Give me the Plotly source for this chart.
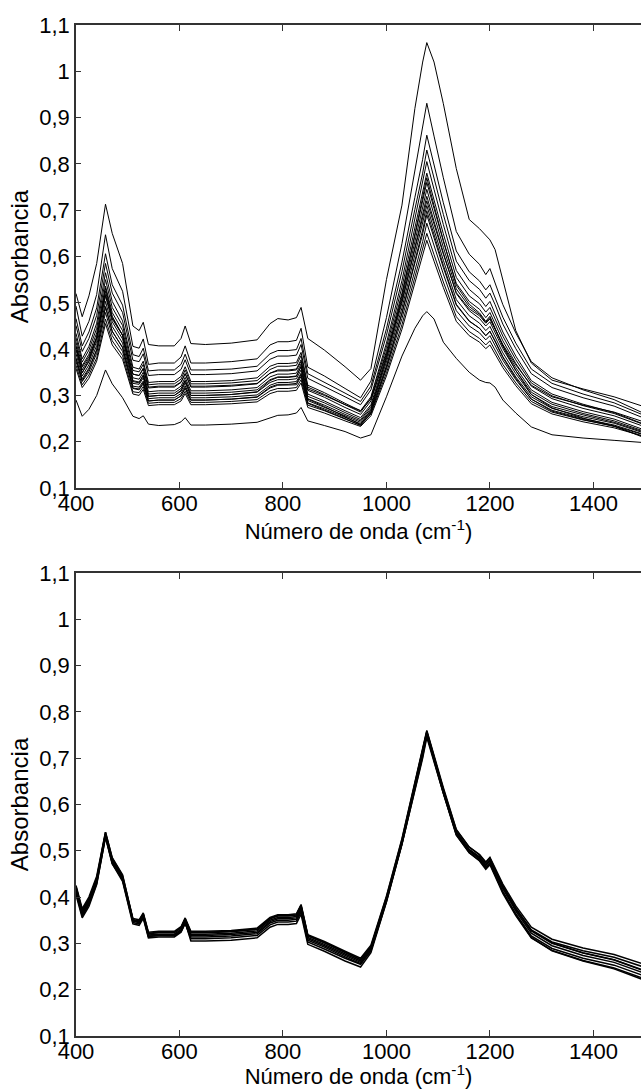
import plotly.graph_objects as go

# Wavenumber knots (cm-1)
wavenumber = [400, 412, 425, 440, 457, 470, 490, 510, 522, 530, 540, 560, 590, 603, 611, 622,
              650, 700, 750, 775, 790, 810, 826, 835, 848, 880, 920, 950, 970, 1000, 1030,
              1055, 1070, 1078, 1092, 1110, 1135, 1160, 1180, 1192, 1200, 1210, 1225, 1250,
              1280, 1320, 1380, 1440, 1500]

# ---- Top panel: raw spectra ----
raw_A = [0.52, 0.47, 0.515, 0.585, 0.713, 0.65, 0.585, 0.45, 0.44, 0.458, 0.41, 0.407, 0.407, 0.423, 0.45, 0.412,
         0.41, 0.413, 0.42, 0.455, 0.466, 0.463, 0.468, 0.49, 0.423, 0.398, 0.362, 0.333, 0.358, 0.55, 0.711,
         0.92, 1.02, 1.062, 1.02, 0.93, 0.79, 0.68, 0.66, 0.645, 0.636, 0.615, 0.55, 0.44,
         0.37, 0.333, 0.314, 0.297, 0.275]
raw_B = [0.493, 0.428, 0.46, 0.518, 0.647, 0.574, 0.525, 0.406, 0.402, 0.422, 0.367, 0.37, 0.37, 0.383, 0.407, 0.37,
         0.37, 0.373, 0.379, 0.409, 0.416, 0.416, 0.419, 0.445, 0.361, 0.342, 0.315, 0.295, 0.331, 0.468, 0.628,
         0.783, 0.873, 0.931, 0.86, 0.77, 0.654, 0.605, 0.583, 0.561, 0.574, 0.544, 0.496, 0.435,
         0.373, 0.338, 0.312, 0.291, 0.26]
raw_C = [0.466, 0.407, 0.437, 0.489, 0.606, 0.539, 0.495, 0.388, 0.384, 0.402, 0.353, 0.355, 0.355, 0.367, 0.389, 0.355,
         0.355, 0.357, 0.363, 0.39, 0.397, 0.397, 0.399, 0.423, 0.347, 0.329, 0.305, 0.287, 0.32, 0.444, 0.588,
         0.728, 0.81, 0.862, 0.798, 0.716, 0.612, 0.567, 0.547, 0.528, 0.539, 0.512, 0.469, 0.413,
         0.357, 0.326, 0.303, 0.284, 0.256]
raw_D = [0.451, 0.395, 0.423, 0.473, 0.585, 0.521, 0.479, 0.376, 0.373, 0.39, 0.343, 0.345, 0.345, 0.356, 0.377, 0.345,
         0.345, 0.347, 0.353, 0.378, 0.385, 0.385, 0.387, 0.41, 0.337, 0.32, 0.297, 0.28, 0.312, 0.43, 0.568,
         0.702, 0.78, 0.83, 0.769, 0.691, 0.59, 0.548, 0.529, 0.51, 0.521, 0.496, 0.454, 0.401,
         0.347, 0.317, 0.295, 0.277, 0.25]
raw_E = [0.434, 0.379, 0.406, 0.456, 0.565, 0.503, 0.461, 0.361, 0.357, 0.374, 0.328, 0.33, 0.33, 0.341, 0.362, 0.33,
         0.33, 0.332, 0.338, 0.363, 0.369, 0.369, 0.371, 0.393, 0.322, 0.306, 0.283, 0.267, 0.297, 0.413, 0.548,
         0.679, 0.756, 0.805, 0.745, 0.669, 0.57, 0.529, 0.51, 0.492, 0.503, 0.477, 0.437, 0.385,
         0.332, 0.303, 0.281, 0.263, 0.237]
raw_F = [0.424, 0.372, 0.398, 0.445, 0.55, 0.49, 0.451, 0.354, 0.351, 0.367, 0.323, 0.325, 0.325, 0.335, 0.355, 0.325,
         0.325, 0.327, 0.332, 0.356, 0.363, 0.363, 0.365, 0.386, 0.318, 0.302, 0.28, 0.264, 0.294, 0.404, 0.534,
         0.66, 0.733, 0.78, 0.722, 0.649, 0.555, 0.515, 0.498, 0.48, 0.49, 0.466, 0.428, 0.377,
         0.327, 0.299, 0.278, 0.261, 0.236]
raw_G = [0.415, 0.364, 0.389, 0.435, 0.536, 0.479, 0.44, 0.346, 0.343, 0.359, 0.316, 0.318, 0.318, 0.328, 0.347, 0.318,
         0.318, 0.32, 0.325, 0.348, 0.355, 0.355, 0.357, 0.377, 0.311, 0.296, 0.274, 0.259, 0.288, 0.395, 0.521,
         0.643, 0.714, 0.76, 0.704, 0.633, 0.542, 0.503, 0.486, 0.468, 0.479, 0.455, 0.418, 0.369,
         0.32, 0.293, 0.272, 0.256, 0.232]
raw_H = [0.405, 0.355, 0.38, 0.425, 0.525, 0.468, 0.43, 0.338, 0.335, 0.35, 0.308, 0.31, 0.31, 0.32, 0.339, 0.31,
         0.31, 0.312, 0.317, 0.34, 0.346, 0.346, 0.348, 0.368, 0.303, 0.288, 0.267, 0.252, 0.28, 0.386, 0.51,
         0.63, 0.7, 0.745, 0.69, 0.62, 0.53, 0.492, 0.475, 0.458, 0.468, 0.445, 0.408, 0.36,
         0.312, 0.285, 0.265, 0.249, 0.225]
raw_I = [0.398, 0.349, 0.373, 0.417, 0.515, 0.459, 0.422, 0.332, 0.329, 0.344, 0.303, 0.305, 0.305, 0.315, 0.333, 0.305,
         0.305, 0.307, 0.312, 0.334, 0.34, 0.34, 0.342, 0.362, 0.298, 0.284, 0.263, 0.248, 0.276, 0.379, 0.5,
         0.618, 0.686, 0.73, 0.676, 0.608, 0.52, 0.483, 0.466, 0.45, 0.459, 0.437, 0.401, 0.354,
         0.307, 0.281, 0.261, 0.245, 0.222]
raw_J = [0.39, 0.342, 0.366, 0.408, 0.503, 0.449, 0.413, 0.326, 0.324, 0.338, 0.298, 0.3, 0.3, 0.309, 0.327, 0.3,
         0.3, 0.302, 0.307, 0.328, 0.334, 0.334, 0.336, 0.355, 0.293, 0.279, 0.259, 0.245, 0.272, 0.372, 0.489,
         0.602, 0.668, 0.71, 0.658, 0.592, 0.507, 0.472, 0.456, 0.44, 0.449, 0.427, 0.392, 0.347,
         0.302, 0.276, 0.258, 0.242, 0.22]
raw_K = [0.381, 0.336, 0.359, 0.399, 0.49, 0.438, 0.404, 0.32, 0.318, 0.331, 0.293, 0.295, 0.295, 0.304, 0.321, 0.295,
         0.295, 0.297, 0.301, 0.322, 0.328, 0.328, 0.33, 0.348, 0.289, 0.275, 0.256, 0.242, 0.268, 0.364, 0.477,
         0.586, 0.649, 0.69, 0.64, 0.576, 0.495, 0.46, 0.445, 0.429, 0.438, 0.418, 0.384, 0.34,
         0.297, 0.272, 0.254, 0.24, 0.218]
raw_L = [0.373, 0.33, 0.351, 0.391, 0.479, 0.429, 0.395, 0.315, 0.312, 0.325, 0.288, 0.29, 0.29, 0.299, 0.315, 0.29,
         0.29, 0.292, 0.296, 0.316, 0.322, 0.322, 0.323, 0.341, 0.284, 0.271, 0.252, 0.239, 0.264, 0.357, 0.466,
         0.571, 0.632, 0.672, 0.624, 0.562, 0.483, 0.45, 0.435, 0.42, 0.429, 0.409, 0.376, 0.334,
         0.292, 0.268, 0.25, 0.236, 0.215]
raw_M = [0.365, 0.323, 0.344, 0.381, 0.465, 0.418, 0.386, 0.308, 0.306, 0.319, 0.283, 0.285, 0.285, 0.293, 0.309, 0.285,
         0.285, 0.287, 0.291, 0.31, 0.315, 0.315, 0.317, 0.334, 0.279, 0.267, 0.249, 0.236, 0.26, 0.349, 0.453,
         0.553, 0.612, 0.65, 0.604, 0.545, 0.47, 0.438, 0.423, 0.409, 0.418, 0.398, 0.367, 0.327,
         0.287, 0.264, 0.247, 0.234, 0.214]
raw_N = [0.358, 0.317, 0.337, 0.374, 0.455, 0.409, 0.378, 0.303, 0.3, 0.313, 0.278, 0.28, 0.28, 0.288, 0.304, 0.28,
         0.28, 0.282, 0.286, 0.304, 0.309, 0.309, 0.311, 0.327, 0.274, 0.262, 0.245, 0.233, 0.256, 0.342, 0.443,
         0.541, 0.598, 0.635, 0.59, 0.533, 0.46, 0.429, 0.415, 0.401, 0.409, 0.39, 0.36, 0.321,
         0.282, 0.26, 0.243, 0.23, 0.211]
raw_P = [0.407, 0.361, 0.384, 0.426, 0.518, 0.465, 0.43, 0.346, 0.343, 0.357, 0.318, 0.32, 0.32, 0.329, 0.347, 0.32,
         0.32, 0.322, 0.326, 0.348, 0.353, 0.353, 0.355, 0.373, 0.314, 0.3, 0.28, 0.267, 0.292, 0.39, 0.504,
         0.614, 0.679, 0.72, 0.67, 0.605, 0.522, 0.487, 0.472, 0.456, 0.465, 0.444, 0.41, 0.366,
         0.322, 0.297, 0.279, 0.264, 0.242]
raw_Q = [0.403, 0.349, 0.376, 0.424, 0.532, 0.471, 0.43, 0.33, 0.327, 0.343, 0.298, 0.3, 0.3, 0.311, 0.331, 0.3,
         0.3, 0.302, 0.308, 0.332, 0.339, 0.339, 0.341, 0.363, 0.292, 0.276, 0.254, 0.237, 0.268, 0.382, 0.516,
         0.646, 0.721, 0.77, 0.71, 0.635, 0.538, 0.497, 0.478, 0.46, 0.471, 0.446, 0.406, 0.354,
         0.302, 0.273, 0.251, 0.234, 0.208]
raw_R = [0.379, 0.332, 0.356, 0.398, 0.492, 0.439, 0.403, 0.316, 0.314, 0.328, 0.288, 0.29, 0.29, 0.299, 0.317, 0.29,
         0.29, 0.292, 0.297, 0.318, 0.324, 0.324, 0.326, 0.345, 0.283, 0.269, 0.25, 0.235, 0.262, 0.361, 0.478,
         0.591, 0.657, 0.699, 0.647, 0.581, 0.497, 0.461, 0.445, 0.429, 0.439, 0.417, 0.382, 0.337,
         0.292, 0.266, 0.248, 0.233, 0.21]
raw_Z = [0.29, 0.255, 0.27, 0.3, 0.355, 0.325, 0.295, 0.255, 0.25, 0.256, 0.238, 0.235, 0.237, 0.243, 0.252, 0.236,
         0.236, 0.238, 0.242, 0.252, 0.257, 0.258, 0.262, 0.274, 0.245, 0.235, 0.222, 0.208, 0.215, 0.297, 0.385,
         0.445, 0.472, 0.481, 0.465, 0.415, 0.38, 0.35, 0.333, 0.328, 0.327, 0.318, 0.29, 0.262,
         0.232, 0.215, 0.208, 0.203, 0.198]

raw_spectra = [raw_A, raw_B, raw_C, raw_D, raw_E, raw_F, raw_G, raw_H, raw_I, raw_J,
               raw_K, raw_L, raw_M, raw_N, raw_P, raw_Q, raw_R, raw_Z]

# ---- Bottom panel: corrected spectra ----
cor_1 = [0.415, 0.365, 0.39, 0.435, 0.535, 0.478, 0.44, 0.348, 0.345, 0.36, 0.318, 0.32, 0.32, 0.33, 0.349, 0.32,
         0.32, 0.322, 0.327, 0.35, 0.356, 0.356, 0.358, 0.378, 0.313, 0.298, 0.277, 0.262, 0.29, 0.396, 0.52,
         0.64, 0.71, 0.755, 0.7, 0.63, 0.54, 0.502, 0.485, 0.468, 0.478, 0.455, 0.418, 0.37,
         0.322, 0.295, 0.274, 0.259, 0.235]
cor_2 = [0.421, 0.371, 0.396, 0.441, 0.54, 0.484, 0.446, 0.354, 0.351, 0.366, 0.324, 0.326, 0.326, 0.336, 0.355, 0.326,
         0.326, 0.328, 0.333, 0.356, 0.362, 0.362, 0.364, 0.384, 0.319, 0.304, 0.283, 0.268, 0.296, 0.402, 0.526,
         0.646, 0.716, 0.76, 0.706, 0.636, 0.546, 0.508, 0.491, 0.474, 0.484, 0.461, 0.424, 0.376,
         0.328, 0.301, 0.28, 0.265, 0.241]
cor_3 = [0.409, 0.359, 0.384, 0.429, 0.529, 0.472, 0.434, 0.342, 0.339, 0.354, 0.312, 0.314, 0.314, 0.324, 0.343, 0.314,
         0.314, 0.316, 0.321, 0.344, 0.35, 0.35, 0.352, 0.372, 0.307, 0.292, 0.271, 0.256, 0.284, 0.39, 0.514,
         0.634, 0.704, 0.75, 0.694, 0.624, 0.534, 0.496, 0.479, 0.462, 0.472, 0.449, 0.412, 0.364,
         0.316, 0.289, 0.268, 0.253, 0.229]
cor_4 = [0.412, 0.362, 0.387, 0.432, 0.532, 0.475, 0.437, 0.345, 0.342, 0.357, 0.315, 0.317, 0.317, 0.327, 0.346, 0.305,
         0.305, 0.307, 0.312, 0.335, 0.341, 0.341, 0.343, 0.363, 0.298, 0.283, 0.262, 0.249, 0.28, 0.39, 0.515,
         0.636, 0.706, 0.75, 0.697, 0.628, 0.54, 0.503, 0.487, 0.47, 0.48, 0.458, 0.422, 0.375,
         0.329, 0.303, 0.284, 0.27, 0.248]
cor_5 = [0.423, 0.37, 0.393, 0.437, 0.536, 0.48, 0.442, 0.35, 0.346, 0.361, 0.318, 0.318, 0.317, 0.326, 0.344, 0.31,
         0.31, 0.312, 0.317, 0.34, 0.346, 0.346, 0.348, 0.368, 0.303, 0.288, 0.268, 0.255, 0.285, 0.394, 0.52,
         0.642, 0.712, 0.756, 0.702, 0.633, 0.545, 0.508, 0.492, 0.476, 0.486, 0.464, 0.428, 0.381,
         0.335, 0.309, 0.29, 0.276, 0.254]
cor_6 = [0.425, 0.375, 0.4, 0.445, 0.54, 0.485, 0.448, 0.352, 0.344, 0.358, 0.315, 0.317, 0.317, 0.327, 0.346, 0.317,
         0.317, 0.319, 0.324, 0.347, 0.353, 0.353, 0.355, 0.375, 0.31, 0.295, 0.274, 0.259, 0.287, 0.393, 0.518,
         0.638, 0.708, 0.752, 0.697, 0.626, 0.535, 0.496, 0.478, 0.46, 0.47, 0.446, 0.408, 0.36,
         0.312, 0.285, 0.263, 0.247, 0.223]
cor_7 = [0.405, 0.355, 0.38, 0.427, 0.53, 0.472, 0.438, 0.35, 0.349, 0.364, 0.322, 0.324, 0.324, 0.334, 0.353, 0.324,
         0.324, 0.326, 0.331, 0.354, 0.36, 0.36, 0.362, 0.382, 0.317, 0.302, 0.281, 0.265, 0.292, 0.4, 0.524,
         0.644, 0.713, 0.758, 0.703, 0.632, 0.54, 0.5, 0.482, 0.464, 0.474, 0.45, 0.411, 0.362,
         0.313, 0.284, 0.262, 0.245, 0.22]
cor_8 = [0.418, 0.368, 0.393, 0.438, 0.537, 0.481, 0.443, 0.351, 0.348, 0.363, 0.321, 0.323, 0.323, 0.333, 0.352, 0.323,
         0.323, 0.325, 0.33, 0.353, 0.359, 0.359, 0.361, 0.381, 0.316, 0.301, 0.28, 0.265, 0.292, 0.395, 0.515,
         0.632, 0.7, 0.745, 0.692, 0.624, 0.537, 0.5, 0.485, 0.469, 0.479, 0.457, 0.421, 0.374,
         0.327, 0.3, 0.279, 0.264, 0.24]

corrected_spectra = [cor_1, cor_2, cor_3, cor_4, cor_5, cor_6, cor_7, cor_8]

x_tickvals = [400, 600, 800, 1000, 1200, 1400]
x_ticktext = ["400", "600", "800", "1000", "1200", "1400"]
y_tickvals = [0.1, 0.2, 0.3, 0.4, 0.5, 0.6, 0.7, 0.8, 0.9, 1.0, 1.1]
y_ticktext = ["0,1", "0,2", "0,3", "0,4", "0,5", "0,6", "0,7", "0,8", "0,9", "1", "1,1"]

FONT = "Liberation Sans, Arial, sans-serif"
AXC = "#333333"
FS = 22

fig = go.Figure()

for s in raw_spectra:
    fig.add_trace(go.Scatter(x=wavenumber, y=s, mode="lines", line=dict(color="black", width=1),
                             xaxis="x", yaxis="y", showlegend=False, hoverinfo="skip"))
for s in corrected_spectra:
    fig.add_trace(go.Scatter(x=wavenumber, y=s, mode="lines", line=dict(color="black", width=1.5),
                             xaxis="x2", yaxis="y2", showlegend=False, hoverinfo="skip"))

xcommon = dict(range=[400, 1492], tickvals=x_tickvals, ticktext=x_ticktext, ticks="inside", ticklen=6,
               tickcolor=AXC, tickwidth=1.2, showline=True, linecolor=AXC, linewidth=1.5, mirror="ticks",
               showgrid=False, zeroline=False, ticklabelstandoff=-5,
               tickfont=dict(family=FONT, size=FS, color="black"),
               title=dict(text="Número de onda (cm<sup>-1</sup>)", font=dict(family=FONT, size=FS, color="black"),
                          standoff=1))
ycommon = dict(range=[0.1, 1.1], tickvals=y_tickvals, ticktext=y_ticktext, ticks="inside", ticklen=5,
               tickcolor=AXC, tickwidth=1.2, showline=True, linecolor=AXC, linewidth=1.5, mirror=False,
               showgrid=False, zeroline=False,
               tickfont=dict(family=FONT, size=FS, color="black"),
               title=dict(text="Absorbancia", font=dict(family=FONT, size=24, color="black"), standoff=4))
yright = dict(range=[0.1, 1.1], tickvals=y_tickvals, ticks="inside", ticklen=5, tickcolor=AXC, tickwidth=1.2,
              showline=False, showgrid=False, zeroline=False, showticklabels=False, side="right")

fig.update_layout(
    width=641, height=1089,
    margin=dict(l=76, r=0, t=25, b=53),
    paper_bgcolor="white", plot_bgcolor="white",
    xaxis=dict(**xcommon, anchor="y", domain=[0, 1]),
    yaxis=dict(**ycommon, anchor="x", domain=[0.542, 1]),
    xaxis2=dict(**xcommon, anchor="y2", domain=[0, 1]),
    yaxis2=dict(**ycommon, anchor="x2", domain=[0, 0.458]),
    yaxis3=dict(**yright, overlaying="y", anchor="x"),
    yaxis4=dict(**yright, overlaying="y2", anchor="x2"),
)

fig.write_html("out.html", config={"displayModeBar": False},
               post_script="document.body.style.margin='0px';document.body.style.overflow='hidden';")
